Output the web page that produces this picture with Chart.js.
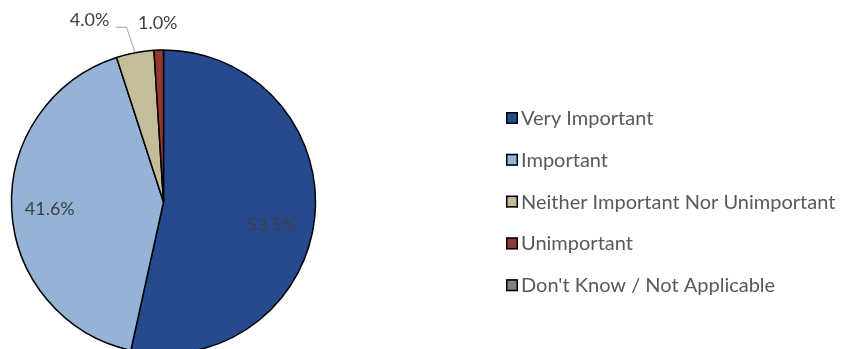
<!DOCTYPE html>
<html>
<head>
<meta charset="utf-8">
<script src="https://cdn.jsdelivr.net/npm/chart.js@4/dist/chart.umd.min.js"></script>
<style>
  html, body { margin: 0; padding: 0; background: #ffffff; overflow: hidden; }
  #wrap { position: relative; width: 841px; height: 349px; overflow: hidden; }
  canvas { display: block; }
</style>
</head>
<body>
<div id="wrap"><canvas id="pie" width="841" height="360"></canvas></div>
<script>
// Survey answers and their shares (percent of respondents)
const categories = [
  'Very Important',
  'Important',
  'Neither Important Nor Unimportant',
  'Unimportant',
  "Don't Know / Not Applicable"
];
const shares = [53.5, 41.6, 4.0, 1.0, 0];
const valueLabels = ['53.5%', '41.6%', '4.0%', '1.0%', ''];

// Slice fills
const sliceColors = ['#254A90', '#95B3D7', '#C4BD97', '#953735', '#808080'];

// Where each value label goes: inside the slice along its mid angle,
// or outside, shifted from the rim point, optionally with a leader line.
const labelPlacement = [
  { mode: 'in', radial: 0.726, turn: 5.7 },
  { mode: 'in', radial: 0.75, turn: -1 },
  { mode: 'out', dx: -45.5, dy: -32.5, leader: [[26, 7], [37, 7]] },
  { mode: 'out', dx: -1, dy: -27 },
  { mode: 'none' }
];

const valueLabelPlugin = {
  id: 'valueLabels',
  afterDatasetsDraw(chart) {
    const ctx = chart.ctx;
    const meta = chart.getDatasetMeta(0);
    ctx.save();
    ctx.font = '18px Lato';
    ctx.textAlign = 'center';
    ctx.textBaseline = 'middle';
    meta.data.forEach((arc, i) => {
      const p = labelPlacement[i];
      if (!p || p.mode === 'none' || !valueLabels[i]) return;
      const { x, y, startAngle, endAngle, outerRadius } = arc.getProps(
        ['x', 'y', 'startAngle', 'endAngle', 'outerRadius'], true);
      const mid = (startAngle + endAngle) / 2;
      let lx, ly;
      if (p.mode === 'in') {
        const a = mid + (p.turn || 0) * Math.PI / 180;
        lx = x + Math.cos(a) * outerRadius * p.radial;
        ly = y + Math.sin(a) * outerRadius * p.radial;
      } else {
        const rx = x + Math.cos(mid) * outerRadius;
        const ry = y + Math.sin(mid) * outerRadius;
        lx = rx + p.dx;
        ly = ry + p.dy;
        if (p.leader) {
          ctx.beginPath();
          ctx.strokeStyle = '#A6A6A6';
          ctx.lineWidth = 1;
          ctx.moveTo(lx + p.leader[0][0], ly + p.leader[0][1]);
          ctx.lineTo(lx + p.leader[1][0], ly + p.leader[1][1]);
          ctx.lineTo(rx, ry);
          ctx.stroke();
        }
      }
      ctx.fillStyle = '#404040';
      ctx.fillText(valueLabels[i], lx, ly);
    });
    ctx.restore();
  }
};

// Legend on the right: square swatch followed by the category name
const legendStyle = { x: 506, firstRowY: 118, rowGap: 41.8, box: 12, textGap: 15 };

const sideLegendPlugin = {
  id: 'sideLegend',
  afterDraw(chart) {
    const ctx = chart.ctx;
    const ds = chart.data.datasets[0];
    ctx.save();
    ctx.font = '20px Lato';
    ctx.textAlign = 'left';
    ctx.textBaseline = 'middle';
    chart.data.labels.forEach((label, i) => {
      const cy = legendStyle.firstRowY + i * legendStyle.rowGap;
      const bx = legendStyle.x;
      const by = cy - legendStyle.box / 2;
      ctx.fillStyle = ds.backgroundColor[i];
      ctx.fillRect(bx, by, legendStyle.box, legendStyle.box);
      ctx.strokeStyle = '#000000';
      ctx.lineWidth = 1.5;
      ctx.strokeRect(bx + 0.75, by + 0.75, legendStyle.box - 1.5, legendStyle.box - 1.5);
      ctx.fillStyle = '#595959';
      ctx.fillText(label, bx + legendStyle.textGap, cy + 0.5);
    });
    ctx.restore();
  }
};

new Chart(document.getElementById('pie'), {
  type: 'pie',
  data: {
    labels: categories,
    datasets: [{
      data: shares,
      backgroundColor: sliceColors,
      borderColor: '#000000',
      borderWidth: 1.5
    }]
  },
  options: {
    responsive: false,
    animation: false,
    radius: 152,
    layout: { padding: { left: 11.5, right: 525.5, top: 50, bottom: 6 } },
    plugins: {
      legend: { display: false },
      tooltip: { enabled: false }
    }
  },
  plugins: [valueLabelPlugin, sideLegendPlugin]
});
</script>
</body>
</html>
